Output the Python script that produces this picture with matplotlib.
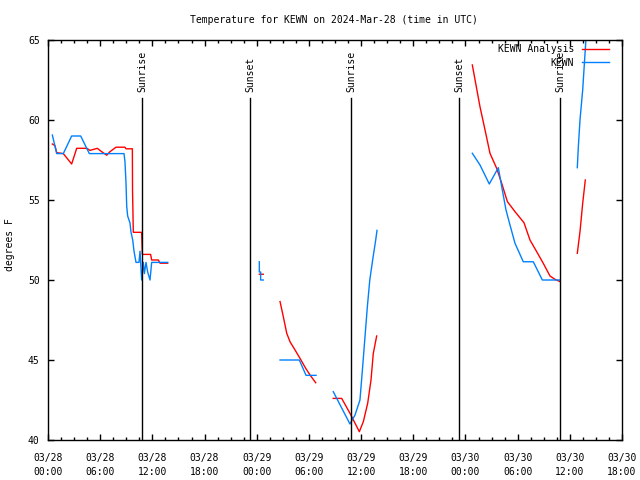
import numpy as np
import matplotlib
matplotlib.use('Agg')
import matplotlib.pyplot as plt
from matplotlib.ticker import MultipleLocator

nan = np.nan

# hours since 2024-03-28 00:00 UTC
analysis_hours = [0.5, 0.8, 1.0, 1.76, 2.72, 3.3, 4.45, 4.83, 5.67, 6.17, 6.75, 7.13, 7.82,
                  8.85, 8.97, 9.7, 9.72, 9.81, 10.77, 10.85, 11.8, 11.92, 12.69, 12.88, 13.76,
                  nan,
                  24.3, 24.75,
                  nan,
                  26.68, 27.06, 27.45, 27.83, 28.4, 28.98, 29.63, 30.13, 30.78,
                  nan,
                  32.8, 33.77, 34.72, 35.8, 36.26, 36.76, 37.14, 37.4, 37.79,
                  nan,
                  48.79, 49.67, 50.25, 50.82, 51.59, 52.17, 52.82, 53.7, 54.73, 55.42,
                  56.19, 56.95, 57.72, 58.3, 58.87,
                  nan,
                  60.86, 61.17, 61.48, 61.78]
analysis_temp = [58.5, 58.4, 57.96, 57.9, 57.25, 58.23, 58.23, 58.1, 58.23, 58.02, 57.8, 58.02, 58.3,
                 58.3, 58.2, 58.2, 55.6, 52.98, 52.98, 51.6, 51.6, 51.25, 51.25, 51.05, 51.05,
                 nan,
                 50.36, 50.36,
                 nan,
                 48.65, 47.7, 46.67, 46.14, 45.63, 45.1, 44.48, 44.06, 43.58,
                 nan,
                 42.6, 42.6, 41.67, 40.52, 41.15, 42.3, 43.75, 45.4, 46.5,
                 nan,
                 63.44, 60.83, 59.38, 57.92, 56.98, 56.04, 54.9, 54.27, 53.58, 52.5,
                 51.77, 51.04, 50.25, 50.04, 49.9,
                 nan,
                 51.67, 53.02, 54.79, 56.25]

obs_hours = [0.5, 1.0, 1.76, 2.72, 3.76, 4.75, 8.74, 8.85, 8.97, 9.05, 9.16, 9.43, 9.54, 9.74,
             9.89, 10.12, 10.46, 10.58, 10.77, 10.96, 11.08, 11.27, 11.46, 11.73, 11.92, 13.76,
             nan,
             24.3, 24.3, 24.45, 24.45, 24.75,
             nan,
             26.68, 28.9, 29.67, 30.82,
             nan,
             32.8, 34.72, 35.3, 35.87, 36.18, 36.45, 36.72, 37.0, 37.33, 37.68, 37.83,
             nan,
             48.79, 49.67, 50.74, 51.78, 52.17, 52.66, 53.12, 53.7, 54.65, 55.8, 56.84, 58.87,
             nan,
             60.86, 60.98, 61.17, 61.48, 61.75, 61.85]
obs_temp = [59.06, 57.9, 57.9, 59.0, 59.0, 57.9, 57.9, 57.4, 56.06, 54.6, 54.0, 53.56, 53.0, 52.5,
            51.8, 51.1, 51.1, 51.8, 50.0, 51.1, 50.4, 51.1, 50.5, 50.0, 51.1, 51.1,
            nan,
            51.14, 50.5, 50.5, 50.0, 50.0,
            nan,
            45.0, 45.0, 44.04, 44.04,
            nan,
            43.02, 41.0, 41.56, 42.5, 44.58, 46.46, 48.33, 50.0, 51.25, 52.5, 53.1,
            nan,
            57.92, 57.19, 56.0, 57.02, 55.83, 54.38, 53.44, 52.29, 51.14, 51.14, 50.0, 50.0,
            nan,
            57.02, 58.33, 60.0, 61.88, 64.17, 65.0]

sun_hours = [10.81, 23.23, 34.84, 47.26, 58.87]
sun_labels = ['Sunrise', 'Sunset', 'Sunrise', 'Sunset', 'Sunrise']

tick_hours = list(range(0, 67, 6))
tick_labels = ['03/28\n00:00', '03/28\n06:00', '03/28\n12:00', '03/28\n18:00',
               '03/29\n00:00', '03/29\n06:00', '03/29\n12:00', '03/29\n18:00',
               '03/30\n00:00', '03/30\n06:00', '03/30\n12:00', '03/30\n18:00']

plt.rcParams['font.family'] = 'DejaVu Sans Mono'
plt.rcParams['font.size'] = 7

fig = plt.figure(figsize=(6.4, 4.8), dpi=100)
ax = fig.add_axes([48 / 640, 40 / 480, 574 / 640, 400 / 480])

ax.plot(analysis_hours, analysis_temp, color='#ff0000', lw=1, label='KEWN Analysis')
ax.plot(obs_hours, obs_temp, color='#0080ff', lw=1, label='KEWN')

for h, lab in zip(sun_hours, sun_labels):
    ax.plot([h, h], [40, 61.35], color='black', lw=1)
    ax.text(h, 61.75, lab, rotation=90, ha='center', va='bottom', fontsize=7)

ax.set_xlim(0, 66)
ax.set_ylim(40, 65)
ax.set_xticks(tick_hours)
ax.set_xticklabels(tick_labels, linespacing=1.6)
ax.xaxis.set_minor_locator(MultipleLocator(1.5))
ax.set_yticks(range(40, 66, 5))
ax.tick_params(which='both', direction='in', top=True, right=True, length=4, width=1, pad=6)
ax.tick_params(axis='x', pad=9)
ax.tick_params(which='minor', length=2)
for s in ax.spines.values():
    s.set_linewidth(1)

fig.text(10 / 640, 1 - 245 / 480, 'degrees F', rotation=90, ha='center', va='center', fontsize=7)
fig.text(334 / 640, 1 - 20 / 480, 'Temperature for KEWN on 2024-Mar-28 (time in UTC)',
         ha='center', va='center', fontsize=7)

leg = ax.legend(loc='upper right', frameon=False, fontsize=7, handlelength=2.8,
                handletextpad=0.8, markerfirst=False, borderaxespad=0, borderpad=0,
                labelspacing=0.34, bbox_to_anchor=(0.9774, 0.989))
for t in leg.get_texts():
    t.set_ha('right')

fig.savefig('out.png', dpi=100)
